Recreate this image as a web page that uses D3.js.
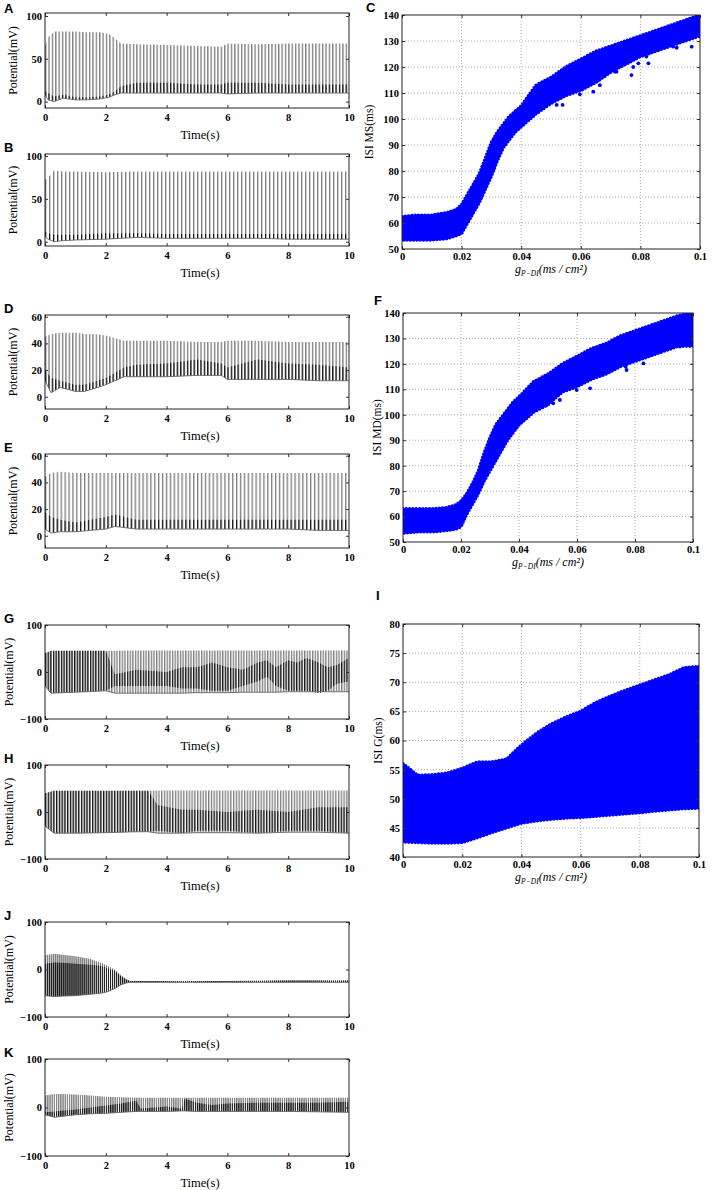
<!DOCTYPE html>
<html>
<head>
<meta charset="utf-8">
<script src="https://cdn.jsdelivr.net/npm/d3@7"></script>
<style>
  body { margin: 0; background: #fff; }
  text { font-family: "Liberation Serif", "Times New Roman", serif; fill: #000; }
  .tick text { font-weight: bold; font-size: 10.5px; }
  .letter { font-family: "Liberation Sans", Arial, sans-serif; font-weight: bold; font-size: 13px; }
</style>
</head>
<body>
<svg id="fig" width="713" height="1190"></svg>
<script>
// ---- data ----
const timeTicks = [0, 2, 4, 6, 8, 10];
const gTicks = [0, 0.02, 0.04, 0.06, 0.08, 0.1];

// A: envelope of the trace (mV) at knot times (s)
const aT      = [0, 0.1, 0.3, 0.6, 1.0, 1.4, 1.8, 2.1, 2.3, 2.5, 3, 4, 5, 5.8, 6, 7, 8, 9, 10];
const aPeak   = [65, 75, 82, 82, 82, 81, 81, 79, 74, 68, 67, 66, 65, 64, 68, 67, 68, 68, 68];
const aTrough = [8, 2, 0, 4, 2, 2, 3, 5, 8, 10, 10, 10, 10, 10, 9, 10, 10, 10, 10];
const aDarkHi = [12, 10, 6, 8, 5, 5, 6, 8, 12, 18, 22, 22, 20, 20, 22, 22, 20, 20, 20];
const aSpikes = 90;

// B
const bT      = [0, 0.1, 0.3, 0.5, 1, 2, 3, 4, 5, 6, 7, 8, 9, 10];
const bPeak   = [72, 75, 83, 82, 82, 81, 82, 82, 82, 82, 82, 82, 82, 82];
const bTrough = [6, 3, 0, 1, 2, 3, 5, 4, 4, 4, 4, 3, 3, 3];
const bDarkHi = [12, 10, 8, 8, 8, 10, 10, 9, 9, 9, 9, 9, 9, 9];
const bSpikes = 76;

// D
const dT      = [0, 0.2, 0.5, 1.0, 1.3, 1.6, 2.0, 2.3, 2.6, 3, 4, 5, 5.8, 6, 7, 8, 9, 10];
const dPeak   = [45, 47, 48, 48, 47, 47, 46, 44, 42, 42, 42, 41, 41, 42, 42, 41, 41, 41];
const dTrough = [12, 3, 7, 4, 4, 6, 9, 12, 15, 15, 15, 16, 16, 13, 13, 13, 12, 12];
const dDarkHi = [20, 14, 12, 9, 9, 11, 14, 18, 22, 24, 25, 28, 25, 22, 28, 25, 24, 22];
const dSpikes = 90;

// E
const eT      = [0, 0.2, 0.5, 1, 2, 2.3, 3, 4, 5, 6, 7, 8, 9, 10];
const ePeak   = [44, 47, 48, 47, 47, 47, 47, 47, 47, 47, 47, 47, 47, 47];
const eTrough = [5, 2, 3, 3, 5, 7, 5, 5, 5, 5, 5, 5, 4, 4];
const eDarkHi = [18, 14, 12, 10, 14, 16, 12, 12, 12, 12, 12, 12, 12, 12];
const eSpikes = 78;

// G
const gT      = [0, 0.2, 1, 2, 2.3, 3, 4, 4.5, 5, 5.5, 6, 6.5, 7, 7.3, 7.6, 8, 8.3, 8.6, 9, 9.3, 9.6, 10];
const gPeak   = [40, 45, 45, 45, 45, 46, 46, 46, 46, 46, 46, 46, 46, 46, 46, 46, 46, 46, 46, 46, 46, 46];
const gTrough = [-30, -45, -43, -40, -45, -45, -45, -45, -44, -44, -44, -43, -43, -43, -43, -42, -42, -42, -42, -42, -42, -42];
const gDarkLo = [-30, -45, -43, -40, -30, -30, -30, -35, -35, -40, -40, -30, -20, -10, -30, -40, -40, -40, -45, -40, -25, -20];
const gDarkHi = [40, 45, 45, 45, -5, 5, 0, 10, 10, 20, 10, 5, 20, 25, 10, 25, 20, 30, 20, 10, 15, 30];
const gSpikes = 115;

// H
const hT      = [0, 0.3, 1, 2, 3, 3.4, 3.7, 4.5, 5, 6, 7, 8, 9, 10];
const hPeak   = [40, 45, 45, 45, 45, 45, 46, 46, 46, 46, 46, 46, 46, 46];
const hTrough = [-30, -45, -45, -44, -42, -42, -45, -45, -44, -44, -45, -43, -43, -45];
const hDarkLo = [-30, -45, -45, -44, -42, -42, -40, -45, -40, -40, -45, -40, -40, -45];
const hDarkHi = [40, 45, 45, 45, 45, 45, 15, 5, 5, 0, 5, 0, 10, 10];
const hSpikes = 110;

// J
const jT      = [0, 0.3, 0.6, 1, 1.5, 1.8, 2.0, 2.3, 2.5, 2.7, 2.8, 3, 4, 6, 8, 10];
const jPeak   = [30, 33, 31, 28, 22, 15, 10, 0, -12, -21, -24, -24, -24, -24, -23, -23];
const jTrough = [-55, -57, -56, -55, -52, -50, -48, -40, -32, -28, -27, -27, -27, -27, -27, -27];
const jDarkHi = [12, 15, 14, 12, 10, 8, 5, -3, -14, -22, -24, -24, -24, -24, -23, -23];
const jSpikes = 150;

// K
const kT      = [0, 0.3, 0.6, 1, 1.5, 2, 2.5, 3, 3.15, 3.6, 4, 4.5, 4.6, 5, 5.5, 6, 7, 8, 9, 10];
const kPeak   = [25, 28, 28, 27, 25, 22, 21, 20, 20, 20, 20, 20, 20, 20, 20, 20, 20, 20, 20, 20];
const kTrough = [-15, -20, -18, -15, -13, -12, -10, -8, -8, -8, -8, -7, -7, -8, -8, -8, -8, -8, -9, -10];
const kDarkHi = [-10, -8, -6, -4, 0, 4, 8, 14, -2, 0, 2, -2, 18, 10, 5, 8, 10, 10, 10, 12];
const kSpikes = 140;

// C: ISI band (ms) vs g_P-DI
const cG    = [0, 0.005, 0.01, 0.015, 0.018, 0.02, 0.022, 0.024, 0.026, 0.028, 0.03, 0.032, 0.034, 0.036, 0.038, 0.04, 0.045, 0.05, 0.055, 0.06, 0.065, 0.07, 0.075, 0.08, 0.085, 0.09, 0.095, 0.1];
const cLow  = [53.5, 53.5, 53.5, 54, 55, 56, 60, 64, 68, 73, 78, 84, 89, 92, 95, 97, 102, 106, 109, 111, 114, 118, 121, 124, 126, 128, 130, 132];
const cHigh = [62.5, 63, 63, 64, 65, 67, 71, 75, 79, 85, 91, 95, 98, 101, 103, 105, 113, 116, 120, 123, 126, 128, 130, 132, 134, 136, 138, 140];
const cOutG = [0.0519, 0.0539, 0.0592, 0.0597, 0.063, 0.0642, 0.0664, 0.0715, 0.072, 0.077, 0.0776, 0.0793, 0.082, 0.0827, 0.091, 0.0922, 0.0972];
const cOutV = [105.4, 105.4, 111.8, 109.5, 114.4, 110.5, 113, 118.2, 118.2, 116.9, 120, 121.4, 124, 121.4, 127.8, 127.4, 127.8];

// F
const fG    = cG;
const fLow  = [53.5, 54, 54, 54.5, 55, 56, 61, 65, 69, 74, 78, 82, 86, 90, 93, 96, 101, 104, 109, 111, 114, 116, 119, 121, 123, 125, 127, 127];
const fHigh = [63, 63, 63, 63.5, 64.5, 66, 69, 73, 78, 85, 91, 96, 99, 102, 105, 107, 113, 116, 120, 123, 126, 128, 131, 133, 135, 137, 139, 140];
const fOutG = [0.0438, 0.0472, 0.0495, 0.0518, 0.0541, 0.0599, 0.0645, 0.0768, 0.0771, 0.0829, 0.0955];
const fOutV = [101.9, 103.2, 103.8, 104.5, 105.8, 109.7, 110.4, 118.9, 117.6, 120.2, 126.8];

// I
const iG    = [0, 0.005, 0.01, 0.015, 0.02, 0.025, 0.03, 0.035, 0.04, 0.045, 0.05, 0.055, 0.06, 0.065, 0.07, 0.075, 0.08, 0.085, 0.09, 0.095, 0.1];
const iLow  = [42.6, 42.5, 42.4, 42.4, 42.5, 43.3, 44.2, 45, 45.8, 46.2, 46.5, 46.7, 46.8, 47, 47.2, 47.4, 47.6, 47.9, 48.1, 48.3, 48.4];
const iHigh = [56, 54, 54.1, 54.4, 55.2, 56.3, 56.3, 56.8, 59.2, 61.2, 62.8, 64, 65, 66.5, 67.6, 68.6, 69.5, 70.4, 71.3, 72.5, 72.7];

// ---- drawing ----
const svg = d3.select("#fig");
const defs = svg.append("defs");
const TL = 45, TR = 349;
const serif = '"Liberation Serif", "Times New Roman", serif';

function frameAxes(g, x, y, box, xt, yt, xfmt) {
  const ax = [
    [d3.axisBottom(x).tickValues(xt).tickFormat(xfmt), `translate(0,${box.bottom})`],
    [d3.axisTop(x).tickValues(xt).tickFormat(""), `translate(0,${box.top})`],
    [d3.axisLeft(y).tickValues(yt).tickFormat(d3.format("d")), `translate(${box.left},0)`],
    [d3.axisRight(y).tickValues(yt).tickFormat(""), `translate(${box.right},0)`]
  ];
  ax.forEach(([a, tr], i) => {
    const s = g.append("g").attr("transform", tr)
      .call(a.tickSize(-3).tickPadding(i === 0 ? box.padX : 3))
      .attr("font-family", serif).attr("font-size", 10.5);
    s.select(".domain").remove();
    s.selectAll(".tick line").attr("stroke", "#333");
    s.selectAll(".tick text").attr("font-weight", "bold");
  });
  g.append("rect")
    .attr("x", box.left).attr("y", box.top)
    .attr("width", box.right - box.left).attr("height", box.bottom - box.top)
    .attr("fill", "none").attr("stroke", "#222").attr("stroke-width", 1);
}

function tracePanel(p) {
  const x = d3.scaleLinear().domain([0, 10]).range([TL, TR]);
  const y = d3.scaleLinear().domain(p.dom).range([p.bottom, p.top]);
  const g = svg.append("g");
  const w = (TR - TL) / p.spikes;

  const clipId = "clip-" + p.key;
  defs.append("clipPath").attr("id", clipId).append("rect")
    .attr("x", TL).attr("y", p.top).attr("width", TR - TL).attr("height", p.bottom - p.top);

  [["lt", "#808080", 1.35], ["dk", "#1a1a1a", 1.2]].forEach(([n, c, lw]) => {
    defs.append("pattern").attr("id", n + p.key)
      .attr("patternUnits", "userSpaceOnUse")
      .attr("x", TL).attr("y", 0).attr("width", w).attr("height", 1190)
      .append("rect").attr("x", 0).attr("y", 0).attr("width", lw).attr("height", 1190).attr("fill", c);
  });

  const rows = p.t.map((t, i) => ({
    t, hi: p.peak[i], lo: p.trough[i],
    dlo: p.darkLo ? p.darkLo[i] : p.trough[i], dhi: p.darkHi[i]
  }));
  const plot = g.append("g").attr("clip-path", `url(#${clipId})`);
  plot.append("path").datum(rows)
    .attr("d", d3.area().x(d => x(d.t)).y0(d => y(d.lo)).y1(d => y(d.hi)))
    .attr("fill", `url(#lt${p.key})`);
  plot.append("path").datum(rows)
    .attr("d", d3.area().x(d => x(d.t)).y0(d => y(d.dlo)).y1(d => y(Math.max(d.dhi, d.dlo))))
    .attr("fill", `url(#dk${p.key})`);
  plot.append("path").datum(rows)
    .attr("d", d3.line().x(d => x(d.t)).y(d => y(d.lo)))
    .attr("fill", "none").attr("stroke", "#666").attr("stroke-width", 0.9);

  frameAxes(g, x, y, { left: TL, right: TR, top: p.top, bottom: p.bottom, padX: 6 },
    timeTicks, p.yt, d3.format("d"));

  g.append("text").attr("x", 200).attr("y", p.bottom + 31)
    .attr("text-anchor", "middle").attr("font-size", 12.5).text("Time(s)");
  g.append("text")
    .attr("transform", `translate(${p.labX},${(p.top + p.bottom) / 2}) rotate(-90)`)
    .attr("text-anchor", "middle").attr("dominant-baseline", "central")
    .attr("font-size", 12).text("Potential(mV)");
  g.append("text").attr("class", "letter").attr("x", 4).attr("y", Math.max(p.top - 2, 13)).text(p.key);
}

function scatterPanel(p) {
  const x = d3.scaleLinear().domain([0, 0.1]).range([p.left, p.right]);
  const y = d3.scaleLinear().domain(p.dom).range([p.bottom, p.top]);
  const g = svg.append("g");

  const clipId = "clip-" + p.key;
  defs.append("clipPath").attr("id", clipId).append("rect")
    .attr("x", p.left).attr("y", p.top).attr("width", p.right - p.left).attr("height", p.bottom - p.top);

  g.selectAll(".vg").data(gTicks.slice(1, -1)).join("line")
    .attr("x1", d => x(d)).attr("x2", d => x(d)).attr("y1", p.top).attr("y2", p.bottom)
    .attr("stroke", "#aaa").attr("stroke-dasharray", "1,2");
  g.selectAll(".hg").data(p.yt.slice(1, -1)).join("line")
    .attr("x1", p.left).attr("x2", p.right).attr("y1", d => y(d)).attr("y2", d => y(d))
    .attr("stroke", "#aaa").attr("stroke-dasharray", "1,2");

  const rows = p.g.map((v, i) => ({ g: v, lo: p.lo[i], hi: p.hi[i] }));
  const area = d3.area().x(d => x(d.g)).y0(d => y(d.lo)).y1(d => y(d.hi));
  const plot = g.append("g").attr("clip-path", `url(#${clipId})`);
  plot.append("path").datum(rows).attr("d", area).attr("fill", "#0000ff");
  plot.append("path").datum(rows).attr("d", area)
    .attr("fill", "none").attr("stroke", "#0000ff").attr("stroke-width", 3.6)
    .attr("stroke-linecap", "round").attr("stroke-dasharray", "0 3.3");
  if (p.outG) {
    plot.selectAll("circle").data(p.outG).join("circle")
      .attr("cx", d => x(d)).attr("cy", (d, i) => y(p.outV[i])).attr("r", 1.9)
      .attr("fill", "#0000ff");
  }

  frameAxes(g, x, y, { left: p.left, right: p.right, top: p.top, bottom: p.bottom, padX: 4 },
    gTicks, p.yt, d => d === 0 ? "0" : String(+d.toFixed(2)));

  const xl = g.append("text").attr("x", (p.left + p.right) / 2).attr("y", p.bottom + 24)
    .attr("text-anchor", "middle").attr("font-size", 12).attr("font-style", "italic");
  xl.append("tspan").text("g");
  xl.append("tspan").attr("font-size", 7.5).attr("dy", 3).text("P−DI");
  xl.append("tspan").attr("dy", -3).text("(ms / cm²)");

  g.append("text")
    .attr("transform", `translate(${p.labX},${(p.top + p.bottom) / 2}) rotate(-90)`)
    .attr("text-anchor", "middle").attr("dominant-baseline", "central")
    .attr("font-size", 11.5).text(p.ylabel);
  g.append("text").attr("class", "letter").attr("x", p.letX).attr("y", p.letY).text(p.key);
}

const traces = [
  { key: "A", top: 13, bottom: 108, dom: [-7.5, 103.5], yt: [0, 50, 100], labX: 13, t: aT, peak: aPeak, trough: aTrough, darkHi: aDarkHi, spikes: aSpikes },
  { key: "B", top: 154, bottom: 246, dom: [-5, 102.3], yt: [0, 50, 100], labX: 13, t: bT, peak: bPeak, trough: bTrough, darkHi: bDarkHi, spikes: bSpikes },
  { key: "D", top: 315, bottom: 409, dom: [-9.2, 61.3], yt: [0, 20, 40, 60], labX: 13, t: dT, peak: dPeak, trough: dTrough, darkHi: dDarkHi, spikes: dSpikes },
  { key: "E", top: 454, bottom: 548, dom: [-9.2, 61.3], yt: [0, 20, 40, 60], labX: 13, t: eT, peak: ePeak, trough: eTrough, darkHi: eDarkHi, spikes: eSpikes },
  { key: "G", top: 625, bottom: 719, dom: [-100, 100], yt: [-100, 0, 100], labX: 9, t: gT, peak: gPeak, trough: gTrough, darkLo: gDarkLo, darkHi: gDarkHi, spikes: gSpikes },
  { key: "H", top: 765, bottom: 859, dom: [-100, 100], yt: [-100, 0, 100], labX: 9, t: hT, peak: hPeak, trough: hTrough, darkLo: hDarkLo, darkHi: hDarkHi, spikes: hSpikes },
  { key: "J", top: 922, bottom: 1017, dom: [-100, 100], yt: [-100, 0, 100], labX: 9, t: jT, peak: jPeak, trough: jTrough, darkHi: jDarkHi, spikes: jSpikes },
  { key: "K", top: 1059, bottom: 1156, dom: [-100, 100], yt: [-100, 0, 100], labX: 9, t: kT, peak: kPeak, trough: kTrough, darkHi: kDarkHi, spikes: kSpikes }
];
traces.forEach(tracePanel);

const scatters = [
  { key: "C", left: 402, right: 700, top: 15, bottom: 249, dom: [50, 140], yt: d3.range(50, 141, 10), g: cG, lo: cLow, hi: cHigh, outG: cOutG, outV: cOutV, ylabel: "ISI MS(ms)", labX: 369, letX: 366, letY: 12 },
  { key: "F", left: 403, right: 693, top: 313, bottom: 542, dom: [50, 140], yt: d3.range(50, 141, 10), g: fG, lo: fLow, hi: fHigh, outG: fOutG, outV: fOutV, ylabel: "ISI MD(ms)", labX: 377, letX: 374, letY: 305 },
  { key: "I", left: 403, right: 699, top: 624, bottom: 857, dom: [40, 80], yt: d3.range(40, 81, 5), g: iG, lo: iLow, hi: iHigh, ylabel: "ISI G(ms)", labX: 378, letX: 376, letY: 600 }
];
scatters.forEach(scatterPanel);
</script>
</body>
</html>
